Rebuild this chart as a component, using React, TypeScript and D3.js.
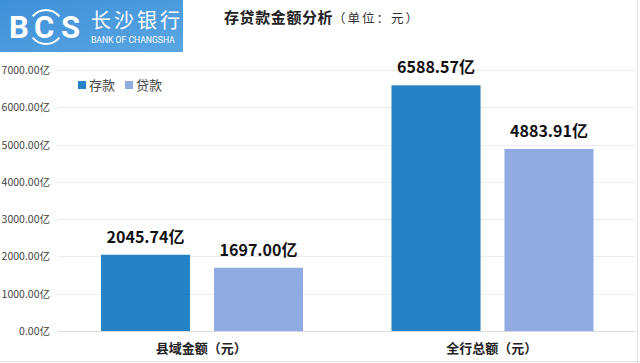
import { useEffect, useRef } from 'react';
import * as d3 from 'd3';

const width = 640;
const height = 363;
const margin = { top: 70, right: 3, bottom: 32, left: 56 };

const categories = ['县域金额（元）', '全行总额（元）'];
const seriesNames = ['存款', '贷款'];
const deposits = [2045.74, 6588.57];
const loans = [1697.0, 4883.91];
const yTicks = [0, 1000, 2000, 3000, 4000, 5000, 6000, 7000];
const colors = ['#2482c5', '#90abe1'];

const font = '"Microsoft YaHei", "Noto Sans CJK SC", sans-serif';

function App() {
  const ref = useRef<SVGSVGElement>(null);

  useEffect(() => {
    const svg = d3.select(ref.current);
    svg.selectAll('*').remove();

    const x0 = d3
      .scaleBand()
      .domain(categories)
      .range([margin.left, width - margin.right])
      .paddingInner(0)
      .paddingOuter(0);
    const x1 = d3
      .scaleBand()
      .domain(seriesNames)
      .range([45, 247])
      .paddingInner(0.212);
    const y = d3
      .scaleLinear()
      .domain([0, 7000])
      .range([height - margin.bottom, margin.top]);

    // logo
    const defs = svg.append('defs');
    const grad = defs
      .append('linearGradient')
      .attr('id', 'logoGrad')
      .attr('x1', 0)
      .attr('y1', 0)
      .attr('x2', 1)
      .attr('y2', 1);
    grad.append('stop').attr('offset', '0%').attr('stop-color', '#3d8fd8');
    grad.append('stop').attr('offset', '100%').attr('stop-color', '#5aa6e2');

    const logo = svg.append('g');
    logo.append('rect').attr('x', 0).attr('y', 0).attr('width', 183).attr('height', 52).attr('fill', 'url(#logoGrad)');
    const letters = [
      { t: 'B', x: 9 },
      { t: 'C', x: 34 },
      { t: 'S', x: 61 },
    ];
    logo
      .selectAll('text.l')
      .data(letters)
      .join('text')
      .attr('class', 'l')
      .attr('x', (d) => d.x)
      .attr('y', 38)
      .attr('fill', '#fff')
      .attr('font-family', 'Roboto, sans-serif')
      .attr('font-weight', 700)
      .attr('font-size', 31)
      .text((d) => d.t);
    const ring = d3.arc();
    logo
      .append('path')
      .attr('transform', 'translate(46,27)')
      .attr('fill', '#fff')
      .attr('d', ring({ innerRadius: 16, outerRadius: 18, startAngle: -0.9, endAngle: 0.9 }) as string);
    logo
      .append('path')
      .attr('transform', 'translate(46,27)')
      .attr('fill', '#fff')
      .attr('d', ring({ innerRadius: 16, outerRadius: 18, startAngle: Math.PI - 0.9, endAngle: Math.PI + 0.9 }) as string);
    logo
      .append('text')
      .attr('x', 91)
      .attr('y', 28)
      .attr('fill', '#fff')
      .attr('font-family', font)
      .attr('font-size', 20)
      .attr('letter-spacing', 3)
      .text('长沙银行');
    logo
      .append('text')
      .attr('x', 91)
      .attr('y', 43)
      .attr('fill', '#fff')
      .attr('font-family', 'Roboto, sans-serif')
      .attr('font-size', 8.6)
      .text('BANK OF CHANGSHA');

    // title
    svg
      .append('text')
      .attr('x', 224)
      .attr('y', 23)
      .attr('font-family', font)
      .attr('fill', '#222')
      .attr('font-weight', 700)
      .attr('font-size', 15)
      .attr('letter-spacing', 0.6)
      .text('存贷款金额分析');
    svg
      .append('text')
      .attr('x', 333)
      .attr('y', 23)
      .attr('font-family', font)
      .attr('font-size', 12.5)
      .attr('fill', '#333')
      .attr('letter-spacing', 2)
      .text('（单位：元）');

    // grid
    svg
      .append('g')
      .selectAll('line')
      .data(yTicks)
      .join('line')
      .attr('x1', margin.left + 2)
      .attr('x2', width - margin.right - 2)
      .attr('y1', (d) => Math.round(y(d)) + 0.5)
      .attr('y2', (d) => Math.round(y(d)) + 0.5)
      .attr('stroke', (d) => (d === 0 ? '#d9d9d9' : '#ececec'))
      .attr('stroke-width', 1);

    svg
      .append('g')
      .selectAll('text')
      .data(yTicks)
      .join('text')
      .attr('x', 50)
      .attr('y', (d) => y(d) + 4)
      .attr('text-anchor', 'end')
      .attr('font-family', font)
      .attr('font-size', 10.5)
      .attr('fill', '#444')
      .text((d) => `${d3.format('.2f')(d)}亿`);

    // bars
    const groups = svg
      .append('g')
      .selectAll('g')
      .data(categories)
      .join('g')
      .attr('transform', (c) => `translate(${x0(c)},0)`);

    const rows = (i: number) => [
      { name: seriesNames[0], value: deposits[i], color: colors[0] },
      { name: seriesNames[1], value: loans[i], color: colors[1] },
    ];

    groups
      .selectAll('rect')
      .data((_, i) => rows(i))
      .join('rect')
      .attr('x', (d) => x1(d.name)!)
      .attr('width', x1.bandwidth())
      .attr('y', (d) => y(d.value))
      .attr('height', (d) => y(0) - y(d.value))
      .attr('fill', (d) => d.color);

    groups
      .selectAll('text.val')
      .data((_, i) => rows(i))
      .join('text')
      .attr('class', 'val')
      .attr('x', (d) => x1(d.name)! + x1.bandwidth() / 2)
      .attr('y', (d) => y(d.value) - 12)
      .attr('text-anchor', 'middle')
      .attr('font-family', font)
      .attr('font-weight', 700)
      .attr('font-size', 16)
      .attr('fill', '#111')
      .text((d) => `${d3.format('.2f')(d.value)}亿`);

    groups
      .append('text')
      .attr('x', x0.bandwidth() / 2)
      .attr('y', height - 10)
      .attr('text-anchor', 'middle')
      .attr('font-family', font)
      .attr('font-weight', 700)
      .attr('font-size', 13)
      .attr('fill', '#222')
      .text((c) => c);

    // legend
    const legend = svg
      .append('g')
      .selectAll('g')
      .data(seriesNames)
      .join('g')
      .attr('transform', (_, i) => `translate(${78 + i * 47},81)`);
    legend
      .append('rect')
      .attr('width', 8)
      .attr('height', 8)
      .attr('fill', (_, i) => colors[i]);
    legend
      .append('text')
      .attr('x', 11)
      .attr('y', 9)
      .attr('font-family', font)
      .attr('font-size', 13)
      .attr('fill', '#444')
      .text((d) => d);

    // frame
    svg
      .append('line')
      .attr('x1', width - 2.5)
      .attr('x2', width - 2.5)
      .attr('y1', 0)
      .attr('y2', height)
      .attr('stroke', '#dde3e6');
    svg
      .append('line')
      .attr('x1', 0)
      .attr('x2', width)
      .attr('y1', height - 1.5)
      .attr('y2', height - 1.5)
      .attr('stroke', '#dde3e6');
  }, []);

  return (
    <svg
      ref={ref}
      width={width}
      height={height}
      style={{ position: 'absolute', left: 0, top: 0, display: 'block', background: '#fff' }}
    />
  );
}

export default App;
